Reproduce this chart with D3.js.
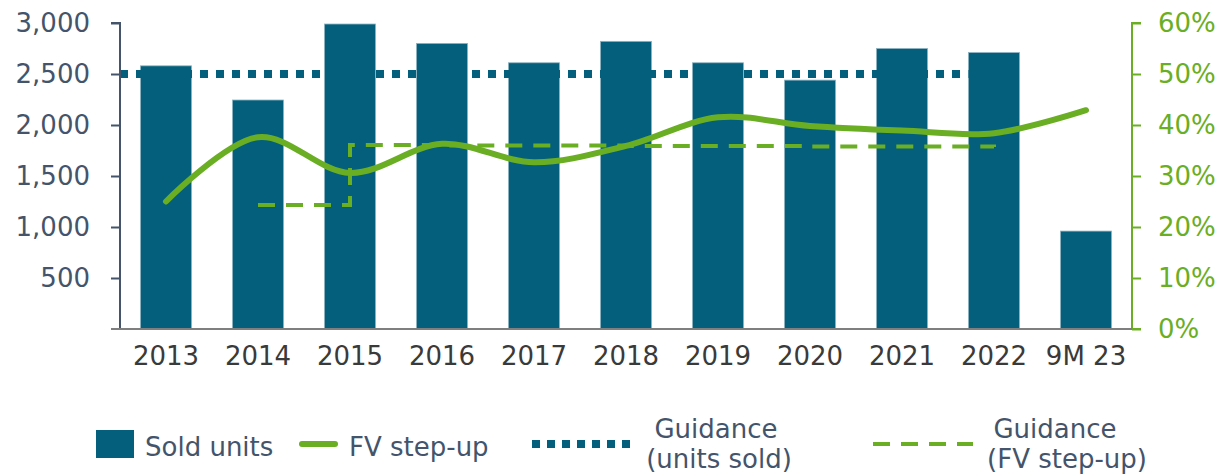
<!DOCTYPE html>
<html>
<head>
    <meta charset="utf-8">
    <title>Sold units and FV step-up</title>
    <style>
      body { margin: 0; background: #fff; }
      text { font-family: 'DejaVu Sans', Verdana, sans-serif; }
    </style>
</head>
<body>
<div id='plot'></div>
<script src="https://cdn.jsdelivr.net/npm/d3@7"></script>
<script>

    // data
    let years = ['2013', '2014', '2015', '2016', '2017', '2018', '2019', '2020', '2021', '2022', '9M 23'];
    let soldUnits = [2580, 2245, 2990, 2800, 2610, 2820, 2610, 2440, 2750, 2710, 960];
    let fvStepUp = [25.0, 37.6, 30.6, 36.3, 32.7, 35.9, 41.5, 39.8, 38.9, 38.4, 42.9];
    let fvGuidance = [null, 24.3, 36.1, 36.0, 36.0, 35.9, 35.9, 35.8, 35.8, 35.7, null];
    let unitsGuidance = 2500;
    let unitsGuidanceEnd = '2022';
    let leftTicks = [500, 1000, 1500, 2000, 2500, 3000];
    let rightTicks = [0, 10, 20, 30, 40, 50, 60];

    let svgWidth = 1221;
    let svgHeight = 474;
    let margin = {top: 23, right: 89, bottom: 145, left: 120};
    let width = svgWidth - margin.left - margin.right;
    let height = svgHeight - margin.top - margin.bottom;

    let teal = '#035f7b';
    let green = '#6aae23';
    let slate = '#44546a';

    function translate(x, y) {
      return 'translate(' + x + ',' + y + ')';
    }

    let svg = d3.select('#plot')
      .append('svg')
        .attr('width', svgWidth)
        .attr('height', svgHeight)
      .append('g')
        .attr('transform', translate(margin.left, margin.top));

    let x = d3.scaleBand()
      .domain(years)
      .range([0, width])
      .paddingInner(0.445)
      .paddingOuter(0.2225);

    let y = d3.scaleLinear().domain([0, 3000]).range([height, 0]);
    let y2 = d3.scaleLinear().domain([0, 60]).range([height, 0]);

    let cx = d => x(d) + x.bandwidth() / 2;

    // bars
    svg.selectAll('rect.bar')
      .data(years)
      .enter()
        .append('rect')
        .attr('class', 'bar')
        .attr('x', d => x(d))
        .attr('width', x.bandwidth())
        .attr('y', (d, i) => y(soldUnits[i]))
        .attr('height', (d, i) => height - y(soldUnits[i]))
        .style('fill', teal)
        .style('stroke', '#8fb3c2')
        .style('stroke-width', 0.8);

    // guidance units sold (dotted)
    svg.append('line')
      .attr('x1', 0)
      .attr('x2', x(unitsGuidanceEnd))
      .attr('y1', y(unitsGuidance))
      .attr('y2', y(unitsGuidance))
      .style('stroke', teal)
      .style('stroke-width', 8)
      .style('stroke-dasharray', '8 8');

    // guidance FV step-up (dashed, stepped)
    let guideLine = d3.line()
      .defined(d => d.v !== null)
      .x(d => cx(d.year))
      .y(d => y2(d.v))
      .curve(d3.curveStepAfter);

    svg.append('path')
      .datum(years.map((d, i) => ({year: d, v: fvGuidance[i]})))
      .attr('d', guideLine)
      .style('fill', 'none')
      .style('stroke', green)
      .style('stroke-width', 4)
      .style('stroke-dasharray', '17 11');

    // FV step-up (smooth)
    let fvLine = d3.line()
      .x(d => cx(d.year))
      .y(d => y2(d.v))
      .curve(d3.curveCatmullRom.alpha(0.5));

    svg.append('path')
      .datum(years.map((d, i) => ({year: d, v: fvStepUp[i]})))
      .attr('d', fvLine)
      .style('fill', 'none')
      .style('stroke', green)
      .style('stroke-width', 6)
      .style('stroke-linecap', 'round');

    // axes
    let yAxis = d3.axisLeft(y)
      .tickValues(leftTicks)
      .tickSize(9)
      .tickPadding(21)
      .tickFormat(d3.format(','));

    let gy = svg.append('g').call(yAxis);
    gy.select('.domain').attr('stroke', slate).attr('stroke-width', 2).attr('d', 'M0,' + height + 'V0H-9');
    gy.selectAll('.tick line').attr('stroke', slate).attr('stroke-width', 2);
    gy.selectAll('text').style('font-size', '26px').style('fill', slate);

    let yAxis2 = d3.axisRight(y2)
      .tickValues(rightTicks)
      .tickSize(9)
      .tickPadding(17)
      .tickFormat(d => d + '%');

    let gy2 = svg.append('g').attr('transform', translate(width, 0)).call(yAxis2);
    gy2.select('.domain').attr('stroke', green).attr('stroke-width', 2).attr('d', 'M9,0H0V' + height + 'H9');
    gy2.selectAll('.tick line').attr('stroke', green).attr('stroke-width', 2);
    gy2.selectAll('text').style('font-size', '26px').style('fill', green);

    let xAxis = d3.axisBottom(x).tickSize(0).tickPadding(18);
    let gx = svg.append('g').attr('transform', translate(0, height)).call(xAxis);
    gx.select('.domain').attr('stroke', '#7f7f7f').attr('stroke-width', 2).attr('d', 'M-9,0H' + width);
    gx.selectAll('text').style('font-size', '26px').style('fill', '#3a3a3a');

    // legend
    let legend = d3.select('svg').append('g');

    legend.append('rect')
      .attr('x', 96).attr('y', 430).attr('width', 38).attr('height', 28)
      .style('fill', teal);
    legend.append('text')
      .attr('x', 145).attr('y', 456)
      .style('font-size', '26px').style('fill', slate)
      .text('Sold units');

    legend.append('line')
      .attr('x1', 302).attr('x2', 335).attr('y1', 444).attr('y2', 444)
      .style('stroke', green).style('stroke-width', 6).style('stroke-linecap', 'round');
    legend.append('text')
      .attr('x', 349).attr('y', 456)
      .style('font-size', '26px').style('fill', slate)
      .text('FV step-up');

    legend.append('line')
      .attr('x1', 532).attr('x2', 637).attr('y1', 444).attr('y2', 444)
      .style('stroke', teal).style('stroke-width', 8).style('stroke-dasharray', '8 7');
    legend.append('text')
      .attr('x', 716).attr('y', 438).attr('text-anchor', 'middle')
      .style('font-size', '26px').style('fill', slate)
      .text('Guidance');
    legend.append('text')
      .attr('x', 719).attr('y', 468).attr('text-anchor', 'middle')
      .style('font-size', '26px').style('fill', slate)
      .text('(units sold)');

    legend.append('line')
      .attr('x1', 873).attr('x2', 973).attr('y1', 444).attr('y2', 444)
      .style('stroke', green).style('stroke-width', 4).style('stroke-dasharray', '17 11');
    legend.append('text')
      .attr('x', 1055).attr('y', 438).attr('text-anchor', 'middle')
      .style('font-size', '26px').style('fill', slate)
      .text('Guidance');
    legend.append('text')
      .attr('x', 1067).attr('y', 468).attr('text-anchor', 'middle')
      .style('font-size', '26px').style('fill', slate)
      .text('(FV step-up)');

</script>
</body>
</html>
